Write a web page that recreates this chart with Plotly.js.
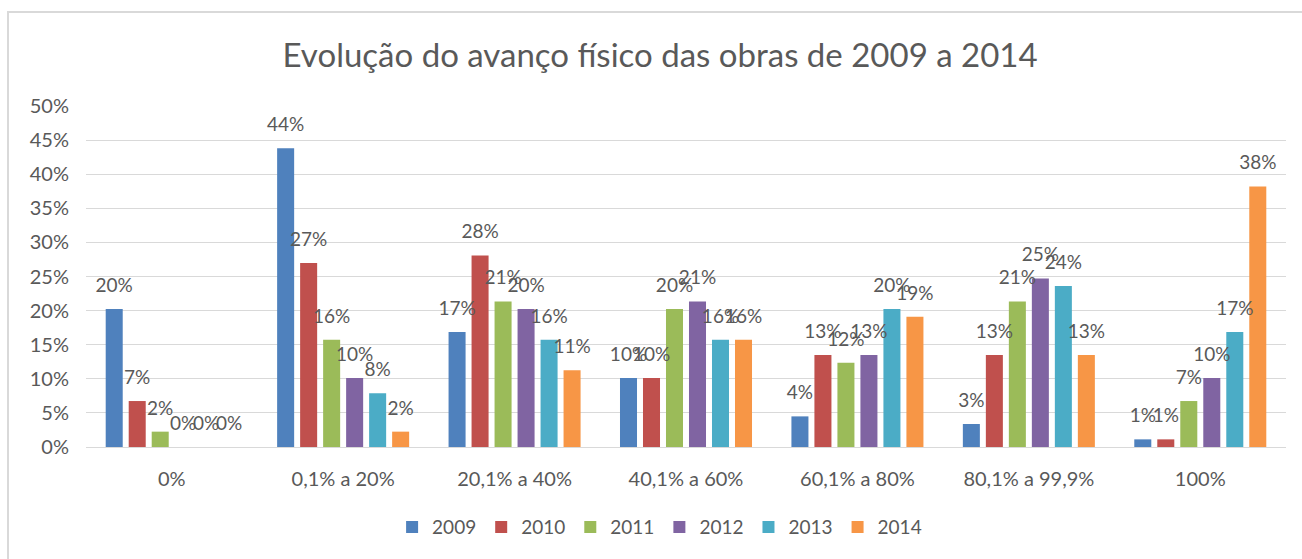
<!DOCTYPE html>
<html>
<head>
<meta charset="utf-8">
<script src="https://cdn.plot.ly/plotly-3.0.1.min.js"></script>
<style>html,body{margin:0;padding:0;background:#fff;}#chart{width:1302px;height:559px;}</style>
</head>
<body>
<div id="chart"></div>
<script>
const categories = ["0%", "0,1% a 20%", "20,1% a 40%", "40,1% a 60%", "60,1% a 80%", "80,1% a 99,9%", "100%"];
const seriesNames = ["2009", "2010", "2011", "2012", "2013", "2014"];
const v2009 = [0.2022, 0.4382, 0.1685, 0.1011, 0.0449, 0.0337, 0.0112];
const v2010 = [0.0674, 0.2697, 0.2809, 0.1011, 0.1348, 0.1348, 0.0112];
const v2011 = [0.0225, 0.1573, 0.2135, 0.2022, 0.1236, 0.2135, 0.0674];
const v2012 = [0.0000, 0.1011, 0.2022, 0.2135, 0.1348, 0.2472, 0.1011];
const v2013 = [0.0000, 0.0787, 0.1573, 0.1573, 0.2022, 0.2360, 0.1685];
const v2014 = [0.0000, 0.0225, 0.1124, 0.1573, 0.1910, 0.1348, 0.3820];
const colors = ["#4F81BD", "#C0504D", "#9BBB59", "#8064A2", "#4BACC6", "#F79646"];
const values = [v2009, v2010, v2011, v2012, v2013, v2014];

const font = "Lato, 'Open Sans', sans-serif";
const barTraces = seriesNames.map((name, i) => ({
  type: "bar",
  name: name,
  x: categories,
  y: values[i],
  offsetgroup: name,
  marker: {color: colors[i], line: {width: 0}},
  hoverinfo: "none"
}));
const labelTraces = seriesNames.map((name, i) => ({
  type: "scatter",
  mode: "markers+text",
  name: name + " rótulos",
  x: categories,
  y: values[i],
  offsetgroup: name,
  alignmentgroup: "labels",
  marker: {size: 18, color: "rgba(0,0,0,0)"},
  texttemplate: "%{y:.0%}",
  textposition: "top center",
  textfont: {family: font, size: 19, color: "#595959"},
  cliponaxis: false,
  showlegend: false,
  hoverinfo: "none"
}));

const layout = {
  width: 1302,
  height: 559,
  paper_bgcolor: "#ffffff",
  plot_bgcolor: "#ffffff",
  margin: {l: 86, r: 16, t: 106, b: 112},
  barmode: "group",
  bargap: 0.195,
  bargroupgap: 0.26,
  scattermode: "group",
  scattergap: 0.195,
  title: {
    text: "Evolução do avanço físico das obras de 2009 a 2014",
    font: {family: font, size: 33, color: "#595959"},
    x: 0.507, xanchor: "center",
    y: 0.9, yref: "container", yanchor: "middle"
  },
  xaxis: {
    type: "category",
    showgrid: false,
    showline: true,
    linecolor: "#d9d9d9",
    linewidth: 1,
    ticks: "",
    ticklabelstandoff: 14,
    tickfont: {family: font, size: 20, color: "#595959"},
    fixedrange: true
  },
  yaxis: {
    range: [0, 0.5],
    dtick: 0.05,
    tick0: 0,
    tickformat: ".0%",
    showgrid: true,
    gridcolor: "#d9d9d9",
    gridwidth: 1,
    zeroline: false,
    showline: false,
    ticks: "",
    ticklabelstandoff: 16,
    tickfont: {family: font, size: 20, color: "#595959"},
    fixedrange: true
  },
  legend: {
    orientation: "h",
    x: 0.478, xanchor: "center",
    y: -0.235, yanchor: "middle",
    font: {family: font, size: 19, color: "#595959"},
    itemwidth: 30,
    itemclick: false,
    traceorder: "normal"
  },
  shapes: [{
    type: "rect", xref: "paper", yref: "paper",
    x0: -0.065, x1: 1.2, y0: -0.6, y1: 1.276,
    line: {color: "#d9d9d9", width: 2},
    fillcolor: "rgba(0,0,0,0)",
    layer: "below"
  }],
  showlegend: true
};

Plotly.newPlot("chart", barTraces.concat(labelTraces), layout, {displayModeBar: false, staticPlot: true});
</script>
</body>
</html>
